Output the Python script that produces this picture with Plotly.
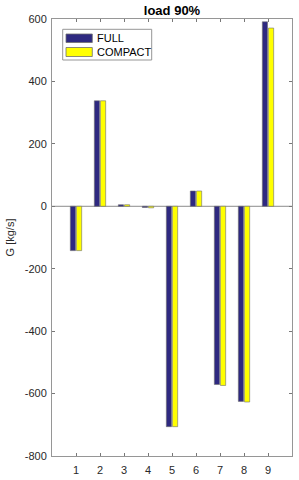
import plotly.graph_objects as go

categories = [1, 2, 3, 4, 5, 6, 7, 8, 9]
series_names = ["FULL", "COMPACT"]
full_values = [-142, 338, 5, -4, -706, 49, -571, -625, 591]
compact_values = [-142, 338, 5, -5, -706, 49, -574, -627, 571]
y_ticks = [-800, -600, -400, -200, 0, 200, 400, 600]
y_tick_labels = [str(v) for v in y_ticks]

W, H = 299, 480
ML, MR, MT, MB = 52, 7, 19, 24
PW, PH = W - ML - MR, H - MT - MB

def px2x(px):
    return (px - ML) / PW

def py2y(py):
    return (H - MB - py) / PH

colors = ["rgb(46,41,128)", "rgb(255,255,0)"]
edge = "rgb(110,110,110)"
font_family = "Liberation Sans, Arial"

fig = go.Figure()
for name, vals, col in zip(series_names, [full_values, compact_values], colors):
    fig.add_trace(go.Bar(x=categories, y=vals, name=name,
                         marker=dict(color=col, line=dict(color=edge, width=0.6))))

fig.add_shape(type="line", xref="x", yref="y", x0=0, x1=10, y0=0, y1=0,
              line=dict(color="rgb(140,140,140)", width=1), layer="below")

# legend box (MATLAB style)
fig.add_shape(type="rect", xref="paper", yref="paper",
              x0=px2x(62.7), x1=px2x(151.7), y0=py2y(60), y1=py2y(29.3),
              fillcolor="white", line=dict(color="rgb(150,150,150)", width=1), layer="above")
patch_y = [(34, 42.5), (47.5, 56.5)]
for name, col, (ya, yb) in zip(series_names, colors, patch_y):
    fig.add_shape(type="rect", xref="paper", yref="paper",
                  x0=px2x(66), x1=px2x(92.3), y0=py2y(yb), y1=py2y(ya),
                  fillcolor=col, line=dict(color=edge, width=0.8), layer="above")
    fig.add_annotation(xref="paper", yref="paper", x=px2x(95), y=py2y((ya + yb) / 2),
                       xanchor="left", yanchor="middle", showarrow=False, text=name,
                       font=dict(family=font_family, size=11, color="black"))

axis_common = dict(showline=True, linecolor="rgb(150,150,150)", linewidth=1, mirror="ticks",
                   ticks="inside", ticklen=3, tickcolor="rgb(120,120,120)", showgrid=False,
                   zeroline=False, automargin=False,
                   tickfont=dict(family=font_family, size=11, color="rgb(40,40,40)"))

fig.update_layout(
    width=W, height=H,
    margin=dict(l=ML, r=MR, t=MT, b=MB),
    paper_bgcolor="white", plot_bgcolor="white",
    barmode="group", bargap=0.49, bargroupgap=0.15,
    showlegend=False,
    title=dict(text="<b>load 90%</b>", x=(ML + PW / 2) / W, xanchor="center",
               yref="container", y=1 - 10.5 / H, yanchor="middle",
               font=dict(family=font_family, size=13, color="black")),
    xaxis=dict(range=[0, 10], tickvals=categories, ticklabelstandoff=4, **axis_common),
    yaxis=dict(range=[-800, 600], tickvals=y_ticks, ticktext=y_tick_labels, ticklabelstandoff=2,
               title=dict(text="G [kg/s]", standoff=7,
                          font=dict(family=font_family, size=11, color="rgb(40,40,40)")),
               **axis_common),
)

fig.write_html("out.html", config={"displayModeBar": False},
               post_script="document.body.style.margin='0';")
